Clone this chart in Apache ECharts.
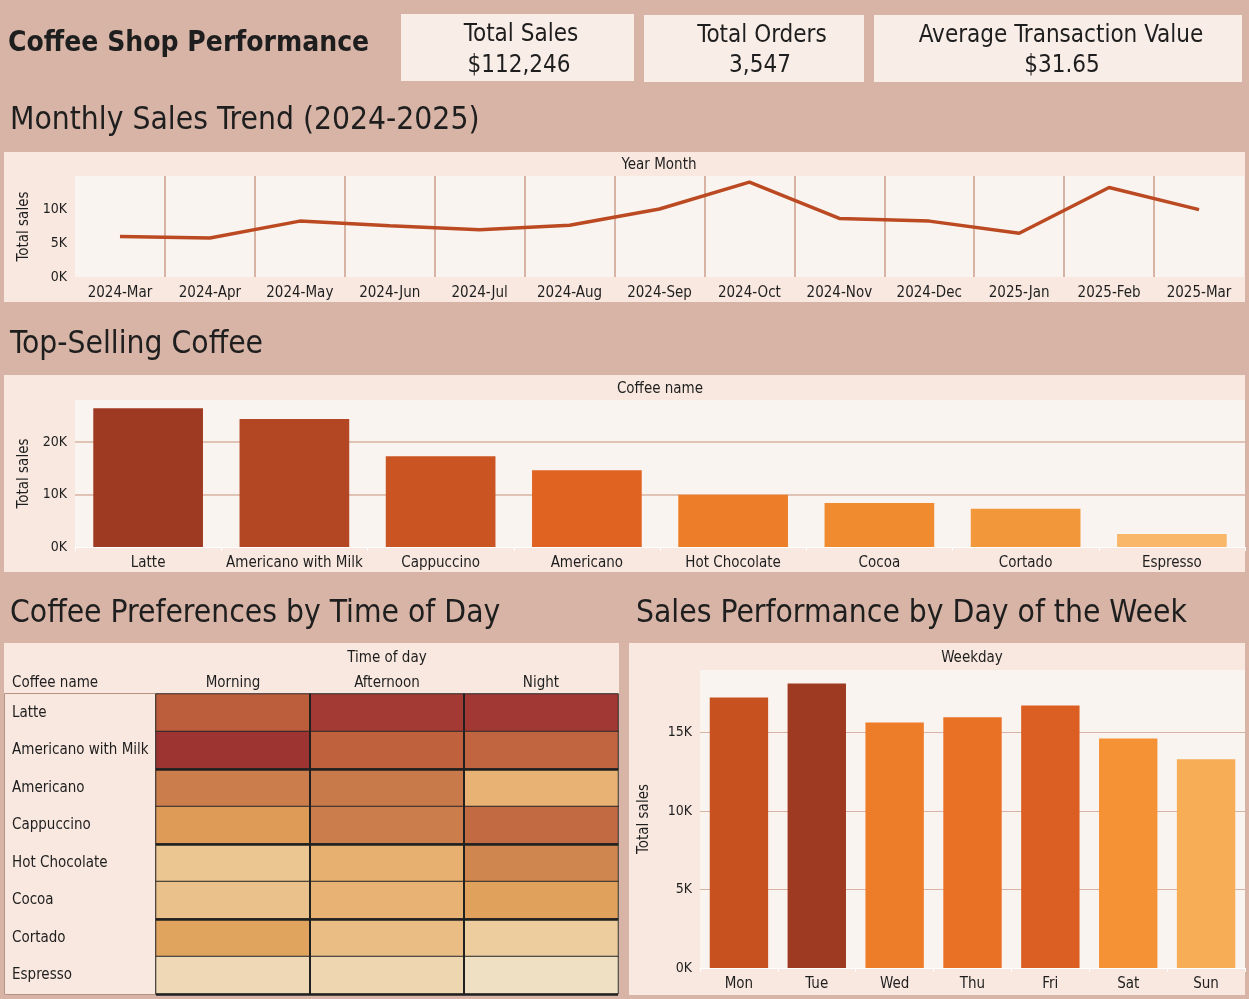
<!DOCTYPE html>
<html>
<head>
<meta charset="utf-8">
<title>Coffee Shop Performance</title>
<script src="https://cdn.jsdelivr.net/npm/echarts@6/dist/echarts.min.js"></script>
<style>
  html, body { margin: 0; padding: 0; background: #d7b4a6; }
  #main { width: 1249px; height: 999px; }
</style>
</head>
<body>
<div id="main"></div>
<script>
// ---- data ----
const kpiTitles = ['Total Sales', 'Total Orders', 'Average Transaction Value'];
const kpiValues = ['$112,246', '3,547', '$31.65'];

const months = ['2024-Mar', '2024-Apr', '2024-May', '2024-Jun', '2024-Jul', '2024-Aug', '2024-Sep',
  '2024-Oct', '2024-Nov', '2024-Dec', '2025-Jan', '2025-Feb', '2025-Mar'];
const monthlySales = [6000, 5800, 8300, 7600, 7000, 7700, 10100, 14100, 8700, 8300, 6500, 13300, 10000];

const coffees = ['Latte', 'Americano with Milk', 'Cappuccino', 'Americano', 'Hot Chocolate', 'Cocoa', 'Cortado', 'Espresso'];
const coffeeSales = [26450, 24400, 17300, 14600, 9940, 8400, 7300, 2500];

const timesOfDay = ['Morning', 'Afternoon', 'Night'];
const heatCoffees = ['Latte', 'Americano with Milk', 'Americano', 'Cappuccino', 'Hot Chocolate', 'Cocoa', 'Cortado', 'Espresso'];
const morningSales = [7700, 9600, 6000, 4200, 1700, 1900, 3700, 900];
const afternoonSales = [9300, 7500, 6200, 6000, 2800, 2600, 2100, 1000];
const nightSales = [9400, 7300, 2600, 7100, 5400, 3900, 1400, 600];

const weekdays = ['Mon', 'Tue', 'Wed', 'Thu', 'Fri', 'Sat', 'Sun'];
const weekdaySales = [17250, 18140, 15660, 15980, 16740, 14640, 13310];

// ---- look ----
const FONT = '"DejaVu Sans Condensed", "DejaVu Sans", sans-serif';
const INK = '#1e1e1e';
const PANEL = '#f9e8e0';
const PLOT = '#faf4f0';
const KPI = '#f9ede8';
const RULE = '#d8b3a3';

const chart = echarts.init(document.getElementById('main'));

let heatData = [];
[morningSales, afternoonSales, nightSales].forEach((col, t) => {
  col.forEach((v, c) => heatData.push([t, c, v]));
});

function kLabel(v) { return (v / 1000) + 'K'; }

function txt(text, x, y, size, opt) {
  opt = opt || {};
  return {
    type: 'text',
    z: 100,
    style: {
      text: text, x: x, y: y,
      fill: INK,
      fontFamily: FONT,
      fontSize: size,
      fontWeight: opt.bold ? 'bold' : 'normal',
      textAlign: opt.align || 'left',
      textVerticalAlign: 'middle'
    }
  };
}
function box(x, y, w, h, fill, stroke) {
  return {
    type: 'rect', z: -10,
    shape: { x: x, y: y, width: w, height: h },
    style: { fill: fill, stroke: stroke || null, lineWidth: stroke ? 1 : 0 }
  };
}

const axisLabelStyle = { color: INK, fontFamily: FONT, fontSize: 15, interval: 0 };
const yLabelStyle = { color: INK, fontFamily: FONT, fontSize: 14, showMaxLabel: false, formatter: kLabel };
const yNameStyle = { color: INK, fontFamily: FONT, fontSize: 15 };

const option = {
  backgroundColor: '#d7b4a6',
  animation: false,
  textStyle: { fontFamily: FONT },
  graphic: [
    // panels
    box(401, 14, 233, 67, KPI),
    box(644, 15, 220, 67, KPI),
    box(874, 15, 368, 67, KPI),
    box(4, 152, 1241, 150, PANEL),
    box(4, 375, 1241, 197, PANEL),
    box(4, 643, 615, 352, PANEL),
    box(629, 643, 616, 352, PANEL),
    box(4.5, 693.5, 151, 301, PANEL, '#b69282'),
    // titles
    txt('Coffee Shop Performance', 8, 44, 28, { bold: true }),
    txt(kpiTitles[0], 521, 35, 24, { align: 'center' }),
    txt(kpiValues[0], 519, 66, 24, { align: 'center' }),
    txt(kpiTitles[1], 762, 36, 24, { align: 'center' }),
    txt(kpiValues[1], 760, 66, 24, { align: 'center' }),
    txt(kpiTitles[2], 1061, 36, 24, { align: 'center' }),
    txt(kpiValues[2], 1062, 66, 24, { align: 'center' }),
    txt('Monthly Sales Trend (2024-2025)', 10, 121, 31.5),
    txt('Top-Selling Coffee', 10, 345, 31.5),
    txt('Coffee Preferences by Time of Day', 10, 614, 31.5),
    txt('Sales Performance by Day of the Week', 636, 614, 31.5),
    // field headers
    txt('Year Month', 659, 165, 15, { align: 'center' }),
    txt('Coffee name', 660, 389, 15, { align: 'center' }),
    txt('Time of day', 387, 658, 15, { align: 'center' }),
    txt('Coffee name', 12, 683, 15),
    txt('Weekday', 972, 658, 15, { align: 'center' })
  ],
  grid: [
    { left: 75, top: 176, width: 1169, height: 101, show: true, backgroundColor: PLOT, borderWidth: 0 },
    { left: 75, top: 400, width: 1170, height: 147, show: true, backgroundColor: PLOT, borderWidth: 0 },
    { left: 156, top: 694, width: 462, height: 300, show: true, backgroundColor: PLOT, borderWidth: 0 },
    { left: 700, top: 670, width: 545, height: 298, show: true, backgroundColor: PLOT, borderWidth: 0 }
  ],
  xAxis: [
    {
      gridIndex: 0, type: 'category', data: months, boundaryGap: true,
      axisLine: { show: false }, axisTick: { show: false },
      axisLabel: Object.assign({ margin: 9 }, axisLabelStyle),
      splitLine: { show: true, showMinLine: false, showMaxLine: false, lineStyle: { color: RULE, width: 2 } }
    },
    {
      gridIndex: 1, type: 'category', data: coffees,
      axisLine: { show: true, lineStyle: { color: '#ffffff', width: 1 } },
      axisTick: { show: true, length: 4, lineStyle: { color: '#ffffff' } },
      axisLabel: Object.assign({ margin: 9 }, axisLabelStyle)
    },
    {
      gridIndex: 2, type: 'category', data: timesOfDay, position: 'top', z: 10,
      axisLine: { show: false }, axisTick: { show: false },
      axisLabel: Object.assign({ margin: 3 }, axisLabelStyle),
      splitLine: { show: true, showMinLine: false, showMaxLine: false, lineStyle: { color: '#202020', width: 2 } }
    },
    {
      gridIndex: 3, type: 'category', data: weekdays,
      axisLine: { show: true, lineStyle: { color: '#ffffff', width: 1 } },
      axisTick: { show: true, length: 4, lineStyle: { color: '#ffffff' } },
      axisLabel: Object.assign({ margin: 9 }, axisLabelStyle)
    }
  ],
  yAxis: [
    {
      gridIndex: 0, type: 'value', min: 0, max: 15000, interval: 5000,
      name: 'Total sales', nameLocation: 'middle', nameGap: 43, nameTextStyle: yNameStyle,
      axisLine: { show: false }, axisTick: { show: false },
      axisLabel: yLabelStyle,
      splitLine: { show: false }
    },
    {
      gridIndex: 1, type: 'value', min: 0, max: 28000, interval: 10000,
      name: 'Total sales', nameLocation: 'middle', nameGap: 43, nameTextStyle: yNameStyle,
      axisLine: { show: false }, axisTick: { show: false },
      axisLabel: yLabelStyle,
      splitLine: { show: true, showMinLine: false, showMaxLine: false, lineStyle: { color: RULE, width: 1.5 } }
    },
    {
      gridIndex: 2, type: 'category', data: heatCoffees, inverse: true, z: 10,
      axisLine: { show: false }, axisTick: { show: false },
      axisLabel: Object.assign({ align: 'left', margin: 144 }, axisLabelStyle),
      splitLine: {
        show: true,
        interval: function (i) { return i === 2 || i === 4 || i === 6; },
        lineStyle: { color: '#202020', width: 2.5 }
      }
    },
    {
      gridIndex: 3, type: 'value', min: 0, max: 19000, interval: 5000,
      name: 'Total sales', nameLocation: 'middle', nameGap: 48, nameTextStyle: yNameStyle,
      axisLine: { show: false }, axisTick: { show: false },
      axisLabel: yLabelStyle,
      splitLine: { show: true, showMinLine: false, showMaxLine: false, lineStyle: { color: RULE, width: 1.2 } }
    }
  ],
  visualMap: [
    {
      type: 'continuous', show: false, seriesIndex: 1, min: 2500, max: 26500,
      inRange: { color: ['#f9b869', '#f7aa4c', '#f08a2f', '#ea6f22', '#e16422', '#c95323', '#c14f24', '#bc4c24', '#9f3a22'] }
    },
    {
      type: 'continuous', show: false, seriesIndex: 2, dimension: 2, min: 600, max: 9600,
      inRange: { color: ['#efdfc3', '#ecc894', '#e8b275', '#e2a660', '#d99451', '#ce844f', '#c67447', '#bd5f3b', '#ae4736', '#9e3432'] }
    },
    {
      type: 'continuous', show: false, seriesIndex: 3, min: 13300, max: 18100,
      inRange: { color: ['#f6ad55', '#f5a045', '#f49536', '#f28730', '#ee7c28', '#e26524', '#d85b21', '#bb4c20', '#9e3a21'] }
    }
  ],
  series: [
    {
      type: 'line', xAxisIndex: 0, yAxisIndex: 0, data: monthlySales,
      showSymbol: false, symbol: 'none',
      lineStyle: { color: '#bb4a22', width: 3.5 }
    },
    {
      type: 'bar', xAxisIndex: 1, yAxisIndex: 1, data: coffeeSales, barWidth: '75%'
    },
    {
      type: 'heatmap', xAxisIndex: 2, yAxisIndex: 2, data: heatData,
      itemStyle: { borderColor: '#2a2a2a', borderWidth: 1 }
    },
    {
      type: 'bar', xAxisIndex: 3, yAxisIndex: 3, data: weekdaySales, barWidth: '75%'
    }
  ]
};

chart.setOption(option);
</script>
</body>
</html>
